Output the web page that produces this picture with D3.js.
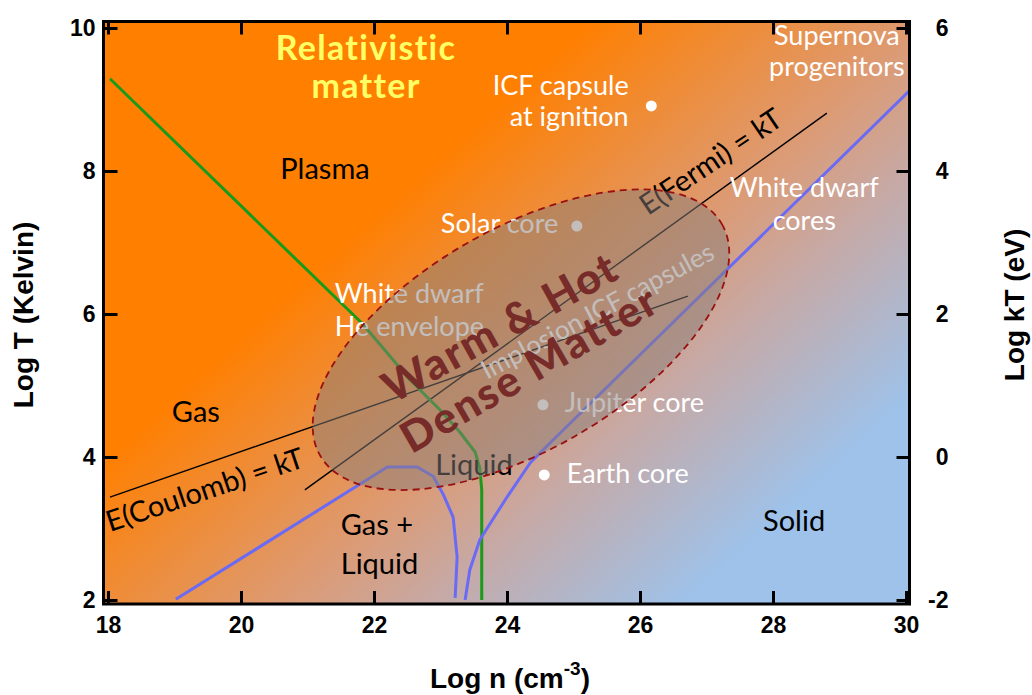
<!DOCTYPE html>
<html>
<head>
<meta charset="utf-8">
<script src="https://cdnjs.cloudflare.com/ajax/libs/d3/7.8.5/d3.min.js"></script>
<style>
    body { margin: 0; background: #fff; }
    svg text { font-family: Lato, "Open Sans", sans-serif; }
    .axis text, .title { font-family: "Liberation Sans", Arial, sans-serif; font-weight: bold; fill: #000; }
</style>
</head>
<body>
<div id="canvas"></div>
<script>
"use strict"

/* Data: log density (x), log temperature (y) */
let xTicks = [18, 20, 22, 24, 26, 28, 30];
let yTicksLeft = [2, 4, 6, 8, 10];
let yTicksRight = [-2, 0, 2, 4, 6];

// gas / liquid boundary (green)
let greenLine = [[18.03, 9.29], [21.82, 5.87], [22.54, 5.08], [22.99, 4.66], [23.29, 4.35],
    [23.52, 4.07], [23.59, 3.85], [23.62, 3.54], [23.62, 2.0]];
// melting line + coexistence dome (blue)
let blueDome = [[19.02, 2.01], [22.2, 3.86], [22.65, 3.86], [22.89, 3.73], [23.04, 3.48],
    [23.19, 3.16], [23.25, 2.6], [23.22, 2.03]];
let blueMelt = [[23.37, 2.0], [23.44, 2.42], [23.59, 2.84], [24.0, 3.44], [24.35, 3.92],
    [24.65, 4.2], [30.05, 9.12]];
// E = kT lines
let coulombLine = [[18.03, 3.44], [26.72, 6.25]];
let fermiLine = [[20.96, 3.54], [28.81, 8.81]];

// objects
let points = [[26.17, 8.91], [25.05, 7.23], [24.54, 4.73], [24.56, 3.75]];

// warm dense matter ellipse: centre, end of major axis, end of minor axis
let wdmEllipse = { centre: [24.21, 5.64], major: [27.23, 7.26], minor: [25.04, 4.30] };

// labels (anchored in data units)
let labels = [
    { text: "Relativistic", x: 21.88, y: 9.55, kind: "rel", anchor: "middle" },
    { text: "matter", x: 21.88, y: 9.02, kind: "rel", anchor: "middle" },
    { text: "Plasma", x: 20.59, y: 7.89, kind: "dark", anchor: "start" },
    { text: "ICF capsule", x: 25.83, y: 9.06, kind: "light", anchor: "end" },
    { text: "at ignition", x: 25.83, y: 8.63, kind: "light", anchor: "end" },
    { text: "Supernova", x: 28.96, y: 9.76, kind: "light", anchor: "middle" },
    { text: "progenitors", x: 28.96, y: 9.33, kind: "light", anchor: "middle" },
    { text: "White dwarf", x: 28.47, y: 7.64, kind: "light", anchor: "middle" },
    { text: "cores", x: 28.47, y: 7.17, kind: "light", anchor: "middle" },
    { text: "Solar core", x: 24.77, y: 7.13, kind: "light", anchor: "end" },
    { text: "White dwarf", x: 21.41, y: 6.15, kind: "light", anchor: "start" },
    { text: "He envelope", x: 21.41, y: 5.69, kind: "light", anchor: "start" },
    { text: "Implosion ICF capsules", x: 23.70, y: 5.08, kind: "small", anchor: "start", angle: -28 },
    { text: "E(Fermi) = kT", x: 26.12, y: 7.37, kind: "line", anchor: "start", angle: -34 },
    { text: "E(Coulomb) = kT", x: 18.03, y: 2.95, kind: "line", anchor: "start", angle: -18.5 },
    { text: "Gas", x: 18.96, y: 4.49, kind: "dark", anchor: "start" },
    { text: "Liquid", x: 22.92, y: 3.75, kind: "dark", anchor: "start" },
    { text: "Gas +", x: 21.5, y: 2.91, kind: "dark", anchor: "start" },
    { text: "Liquid", x: 21.5, y: 2.36, kind: "dark", anchor: "start" },
    { text: "Jupiter core", x: 24.87, y: 4.63, kind: "light", anchor: "start" },
    { text: "Earth core", x: 24.9, y: 3.64, kind: "light", anchor: "start" },
    { text: "Solid", x: 27.85, y: 2.97, kind: "dark", anchor: "start" }
];
let wdmLabels = [
    { text: "Warm & Hot", x: 24.01, y: 5.63, angle: -29 },
    { text: "Dense Matter", x: 24.45, y: 5.05, angle: -30 }
];

// background gradient runs between these two data points
let gradientEnds = [[23.89, 8.99], [28.9, 3.82]];
let gradientStops = [
    { offset: 0, color: "#ff7f00" },
    { offset: 0.45, color: "#dd9a72" },
    { offset: 0.66, color: "#c6a9a6" },
    { offset: 1, color: "#9ec2ea" }
];

/* Drawing configuration */
let svgWidth = 1032;
let svgHeight = 695;

let labelStyle = {
    rel: { fill: "#ffff66", size: 34, weight: "bold", spacing: 1.3 },
    dark: { fill: "#000", size: 29, weight: "normal", spacing: 0 },
    line: { fill: "#000", size: 29, weight: "normal", spacing: 0 },
    light: { fill: "#fff", size: 27, weight: "normal", spacing: 0 },
    small: { fill: "#fff", size: 26, weight: "normal", spacing: 0 }
};

let svg = d3.select("#canvas")
    .append("svg")
    .attr("width", svgWidth)
    .attr("height", svgHeight);

let xScale = d3.scaleLinear().domain([18, 30]).range([108, 906]);
let yScale = d3.scaleLinear().domain([2, 10]).range([600, 28]);
let yScaleRight = d3.scaleLinear().domain([-2, 6]).range([600, 28]);

// frame sits a few px outside the data range
let frame = { left: 103.5, right: 909.5, top: 21.5, bottom: 604 };

/* Background gradient */
let defs = svg.append("defs");
let grad = defs.append("linearGradient")
    .attr("id", "bg")
    .attr("gradientUnits", "userSpaceOnUse")
    .attr("x1", xScale(gradientEnds[0][0]))
    .attr("y1", yScale(gradientEnds[0][1]))
    .attr("x2", xScale(gradientEnds[1][0]))
    .attr("y2", yScale(gradientEnds[1][1]));
grad.selectAll("stop")
    .data(gradientStops)
    .join("stop")
    .attr("offset", d => d.offset)
    .attr("stop-color", d => d.color);

defs.append("clipPath").attr("id", "plotClip")
    .append("rect")
    .attr("x", frame.left)
    .attr("y", frame.top)
    .attr("width", frame.right - frame.left)
    .attr("height", frame.bottom - frame.top);

svg.append("rect")
    .attr("x", frame.left)
    .attr("y", frame.top)
    .attr("width", frame.right - frame.left)
    .attr("height", frame.bottom - frame.top)
    .attr("fill", "url(#bg)");

let plot = svg.append("g").attr("clip-path", "url(#plotClip)");

let line = d3.line()
    .x(d => xScale(d[0]))
    .y(d => yScale(d[1]));

/* Phase lines */
plot.append("path").datum(coulombLine)
    .attr("d", line).attr("fill", "none").attr("stroke", "#000").attr("stroke-width", 1.4);
plot.append("path").datum(fermiLine)
    .attr("d", line).attr("fill", "none").attr("stroke", "#000").attr("stroke-width", 1.4);
plot.append("path").datum(greenLine)
    .attr("d", line).attr("fill", "none").attr("stroke", "#1a9a1a").attr("stroke-width", 3)
    .attr("stroke-linejoin", "round");
[blueDome, blueMelt].forEach(function (pts) {
    plot.append("path").datum(pts)
        .attr("d", line).attr("fill", "none").attr("stroke", "#6a6af5").attr("stroke-width", 3)
        .attr("stroke-linejoin", "round");
});

/* Objects */
plot.selectAll("circle.obj")
    .data(points)
    .join("circle")
    .attr("class", "obj")
    .attr("cx", d => xScale(d[0]))
    .attr("cy", d => yScale(d[1]))
    .attr("r", 5.5)
    .attr("fill", "#fff");

/* Region labels */
plot.selectAll("text.lab")
    .data(labels)
    .join("text")
    .attr("class", "lab")
    .attr("transform", d => "translate(" + xScale(d.x) + "," + yScale(d.y) + ")" +
        (d.angle ? " rotate(" + d.angle + ")" : ""))
    .attr("text-anchor", d => d.anchor)
    .attr("fill", d => labelStyle[d.kind].fill)
    .attr("font-size", d => labelStyle[d.kind].size)
    .attr("font-weight", d => labelStyle[d.kind].weight)
    .attr("letter-spacing", d => labelStyle[d.kind].spacing)
    .text(d => d.text);

/* Warm dense matter ellipse (drawn over lines and labels) */
let c = [xScale(wdmEllipse.centre[0]), yScale(wdmEllipse.centre[1])];
let ma = [xScale(wdmEllipse.major[0]), yScale(wdmEllipse.major[1])];
let mi = [xScale(wdmEllipse.minor[0]), yScale(wdmEllipse.minor[1])];
let rx = Math.hypot(ma[0] - c[0], ma[1] - c[1]);
let ry = Math.hypot(mi[0] - c[0], mi[1] - c[1]);
let rot = Math.atan2(ma[1] - c[1], ma[0] - c[0]) * 180 / Math.PI;

plot.append("ellipse")
    .attr("transform", "translate(" + c[0] + "," + c[1] + ") rotate(" + rot + ")")
    .attr("rx", rx)
    .attr("ry", ry)
    .attr("fill", "rgb(135,125,122)")
    .attr("fill-opacity", 0.5)
    .attr("stroke", "#9a1010")
    .attr("stroke-width", 1.8)
    .attr("stroke-dasharray", "7,5");

plot.selectAll("text.wdm")
    .data(wdmLabels)
    .join("text")
    .attr("class", "wdm")
    .attr("transform", d => "translate(" + xScale(d.x) + "," + yScale(d.y) + ") rotate(" + d.angle + ")")
    .attr("text-anchor", "middle")
    .attr("fill", "#772c2a")
    .attr("font-size", 43)
    .attr("font-weight", 900)
    .attr("letter-spacing", 2)
    .text(d => d.text);

/* Axes: inward ticks on all four sides */
function styleAxis(g) {
    g.select(".domain").remove();
    g.selectAll(".tick line").attr("stroke", "#000").attr("stroke-width", 3);
    g.selectAll(".tick text").attr("font-size", 23);
}

svg.append("g").attr("class", "axis")
    .attr("transform", "translate(" + frame.left + ",0)")
    .call(d3.axisLeft(yScale).tickValues(yTicksLeft).tickSize(-14).tickPadding(8)
        .tickFormat(d => String(d)))
    .call(styleAxis);

svg.append("g").attr("class", "axis")
    .attr("transform", "translate(0," + frame.bottom + ")")
    .call(d3.axisBottom(xScale).tickValues(xTicks).tickSize(-13).tickPadding(13)
        .tickFormat(d => String(d)))
    .call(styleAxis);

svg.append("g").attr("class", "axis")
    .attr("transform", "translate(0," + frame.top + ")")
    .call(d3.axisTop(xScale).tickValues(xTicks).tickSize(-13).tickFormat(""))
    .call(styleAxis);

let rightAxis = svg.append("g").attr("class", "axis")
    .attr("transform", "translate(" + frame.right + ",0)")
    .call(d3.axisRight(yScaleRight).tickValues(yTicksRight).tickSize(-13)
        .tickFormat(d => String(d)))
    .call(styleAxis);
rightAxis.selectAll(".tick text")
    .attr("text-anchor", "end")
    .attr("x", 39);

/* Frame */
svg.append("rect")
    .attr("x", frame.left)
    .attr("y", frame.top)
    .attr("width", frame.right - frame.left)
    .attr("height", frame.bottom - frame.top)
    .attr("fill", "none")
    .attr("stroke", "#000")
    .attr("stroke-width", 3);

/* Axis titles */
svg.append("text")
    .attr("class", "title")
    .attr("transform", "translate(33,315) rotate(-90)")
    .attr("text-anchor", "middle")
    .attr("font-size", 28)
    .text("Log T (Kelvin)");

svg.append("text")
    .attr("class", "title")
    .attr("transform", "translate(1024,305) rotate(-90)")
    .attr("text-anchor", "middle")
    .attr("font-size", 28)
    .text("Log kT (eV)");

let xTitle = svg.append("text")
    .attr("class", "title")
    .attr("x", 510)
    .attr("y", 688)
    .attr("text-anchor", "middle")
    .attr("font-size", 28);
xTitle.append("tspan").text("Log n (cm");
xTitle.append("tspan").attr("font-size", 19).attr("dy", -13).text("-3");
xTitle.append("tspan").attr("dy", 13).text(")");
</script>
</body>
</html>
